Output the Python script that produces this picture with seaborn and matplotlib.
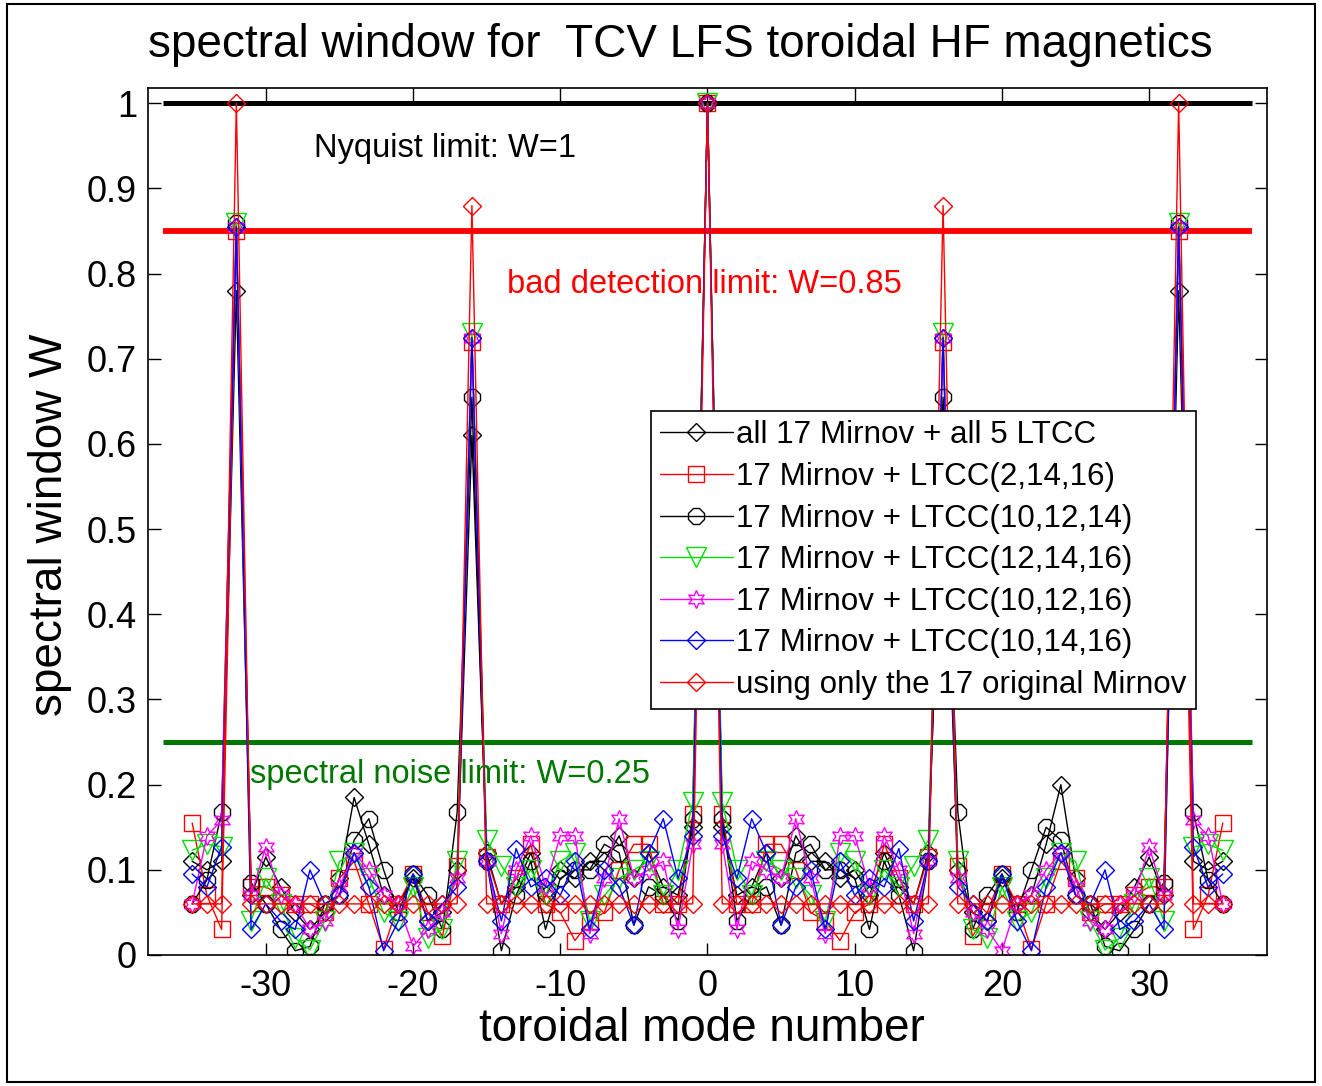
import numpy as np
import matplotlib
matplotlib.use("Agg")
import matplotlib.pyplot as plt
from matplotlib.patches import Rectangle
import seaborn as sns

# toroidal mode numbers
modes = np.arange(-35, 36)

# spectral window W for each probe set
all_ltcc = [0.11, 0.10, 0.11, 0.78, 0.07, 0.115, 0.08, 0.05, 0.03, 0.05, 0.09, 0.185, 0.13, 0.07, 0.06, 0.09,
            0.04, 0.05, 0.10, 0.61, 0.12, 0.06, 0.08, 0.12, 0.07, 0.10, 0.09, 0.11, 0.11, 0.14, 0.09, 0.12,
            0.08, 0.07, 0.15,
            1.0,
            0.15, 0.07, 0.08, 0.12, 0.09, 0.14, 0.11, 0.11, 0.09, 0.10, 0.07, 0.12, 0.08, 0.06, 0.12, 0.61,
            0.10, 0.05, 0.04, 0.09, 0.06, 0.07, 0.13, 0.20, 0.09, 0.05, 0.03, 0.05, 0.08, 0.115, 0.07, 0.78,
            0.11, 0.10, 0.11]
ltcc_2_14_16 = [0.155, 0.07, 0.03, 0.85, 0.08, 0.08, 0.07, 0.06, 0.06, 0.05, 0.09, 0.11, 0.06, 0.007, 0.06, 0.095,
                0.05, 0.022, 0.105, 0.72, 0.115, 0.06, 0.09, 0.13, 0.06, 0.05, 0.017, 0.04, 0.05, 0.10, 0.13,
                0.13, 0.06, 0.06, 0.165,
                1.0,
                0.165, 0.06, 0.06, 0.13, 0.13, 0.10, 0.05, 0.04, 0.017, 0.05, 0.06, 0.13, 0.09, 0.06, 0.115,
                0.72, 0.105, 0.022, 0.05, 0.095, 0.06, 0.007, 0.06, 0.11, 0.09, 0.05, 0.06, 0.06, 0.07, 0.08,
                0.08, 0.85, 0.03, 0.07, 0.155]
ltcc_10_12_14 = [0.06, 0.088, 0.168, 0.86, 0.085, 0.06, 0.03, 0.005, 0.01, 0.06, 0.07, 0.135, 0.16, 0.10, 0.05,
                 0.095, 0.07, 0.03, 0.168, 0.655, 0.11, 0.005, 0.07, 0.11, 0.03, 0.09, 0.10, 0.10, 0.13, 0.12,
                 0.035, 0.08, 0.07, 0.04, 0.16,
                 1.0,
                 0.16, 0.04, 0.07, 0.08, 0.035, 0.12, 0.13, 0.10, 0.10, 0.09, 0.03, 0.11, 0.07, 0.005, 0.11,
                 0.655, 0.168, 0.03, 0.07, 0.095, 0.05, 0.10, 0.15, 0.135, 0.07, 0.06, 0.01, 0.005, 0.03, 0.06,
                 0.085, 0.86, 0.168, 0.088, 0.06]
ltcc_12_14_16 = [0.123, 0.13, 0.127, 0.86, 0.04, 0.09, 0.06, 0.02, 0.006, 0.04, 0.11, 0.12, 0.09, 0.05, 0.04,
                 0.08, 0.02, 0.03, 0.11, 0.73, 0.135, 0.105, 0.08, 0.10, 0.07, 0.11, 0.12, 0.04, 0.07, 0.09,
                 0.10, 0.11, 0.07, 0.10, 0.18,
                 1.0,
                 0.18, 0.10, 0.07, 0.11, 0.10, 0.09, 0.07, 0.04, 0.12, 0.11, 0.07, 0.10, 0.08, 0.105, 0.135,
                 0.73, 0.11, 0.03, 0.02, 0.08, 0.04, 0.05, 0.09, 0.12, 0.11, 0.04, 0.006, 0.02, 0.06, 0.09,
                 0.04, 0.86, 0.127, 0.13, 0.123]
ltcc_10_12_16 = [0.06, 0.14, 0.158, 0.855, 0.07, 0.127, 0.07, 0.06, 0.03, 0.04, 0.08, 0.12, 0.10, 0.07, 0.06,
                 0.01, 0.03, 0.05, 0.09, 0.725, 0.11, 0.025, 0.10, 0.14, 0.08, 0.14, 0.14, 0.025, 0.09, 0.16,
                 0.09, 0.10, 0.11, 0.03, 0.13,
                 1.0,
                 0.13, 0.03, 0.11, 0.10, 0.09, 0.16, 0.09, 0.025, 0.14, 0.14, 0.08, 0.14, 0.10, 0.025, 0.11,
                 0.725, 0.09, 0.05, 0.03, 0.005, 0.06, 0.07, 0.10, 0.12, 0.08, 0.04, 0.03, 0.06, 0.07, 0.127,
                 0.07, 0.855, 0.158, 0.14, 0.06]
ltcc_10_14_16 = [0.095, 0.08, 0.127, 0.855, 0.03, 0.06, 0.04, 0.03, 0.10, 0.06, 0.07, 0.12, 0.08, 0.005, 0.04,
                 0.095, 0.04, 0.06, 0.08, 0.725, 0.11, 0.04, 0.125, 0.08, 0.09, 0.07, 0.11, 0.03, 0.10, 0.08,
                 0.035, 0.12, 0.16, 0.09, 0.14,
                 1.0,
                 0.14, 0.09, 0.16, 0.12, 0.035, 0.08, 0.10, 0.03, 0.11, 0.07, 0.09, 0.08, 0.125, 0.04, 0.11,
                 0.725, 0.08, 0.06, 0.04, 0.095, 0.04, 0.005, 0.08, 0.12, 0.07, 0.06, 0.10, 0.03, 0.04, 0.06,
                 0.03, 0.855, 0.127, 0.08, 0.095]
mirnov_only = [0.06, 0.06, 0.06, 1.0, 0.06, 0.06, 0.06, 0.06, 0.06, 0.06, 0.06, 0.06, 0.06, 0.06, 0.06, 0.06,
               0.06, 0.06, 0.06, 0.88, 0.06, 0.06, 0.06, 0.06, 0.06, 0.06, 0.06, 0.06, 0.06, 0.06, 0.06, 0.06,
               0.06, 0.06, 0.06,
               1.0,
               0.06, 0.06, 0.06, 0.06, 0.06, 0.06, 0.06, 0.06, 0.06, 0.06, 0.06, 0.06, 0.06, 0.06, 0.06, 0.88,
               0.06, 0.06, 0.06, 0.06, 0.06, 0.06, 0.06, 0.06, 0.06, 0.06, 0.06, 0.06, 0.06, 0.06, 0.06, 1.0,
               0.06, 0.06, 0.06]

series_labels = ["all 17 Mirnov + all 5 LTCC",
                 "17 Mirnov + LTCC(2,14,16)",
                 "17 Mirnov + LTCC(10,12,14)",
                 "17 Mirnov + LTCC(12,14,16)",
                 "17 Mirnov + LTCC(10,12,16)",
                 "17 Mirnov + LTCC(10,14,16)",
                 "using only the 17 original Mirnov"]

# detection limits
limit_values = [1.0, 0.85, 0.25]
limit_texts = ["Nyquist limit: W=1", "bad detection limit: W=0.85", "spectral noise limit: W=0.25"]

DARK_GREEN = "#007800"
styles = [
    dict(color="k", marker="D", ms=9.5),
    dict(color="#ff0000", marker="s", ms=12),
    dict(color="k", marker="8", ms=13),
    dict(color="#00e000", marker="v", ms=14),
    dict(color="#ff00ff", marker=(6, 1, 0), ms=13),
    dict(color="#0000ff", marker="D", ms=9.5),
    dict(color="#ff0000", marker="D", ms=9.5),
]

sns.set_style("ticks")
plt.rcParams["font.family"] = ["Liberation Sans", "DejaVu Sans"]
plt.rcParams["text.color"] = "black"
plt.rcParams["axes.labelcolor"] = "black"
plt.rcParams["xtick.color"] = "black"
plt.rcParams["ytick.color"] = "black"

fig = plt.figure(figsize=(13.22, 10.86), dpi=100)
ax = fig.add_axes([0.11195, 0.12063, 0.84644, 0.79834])

# limit lines
limit_span = [-37, 37]
for val, col, lw in zip(limit_values, ["k", "#ff0000", DARK_GREEN], [3.6, 4.2, 3.6]):
    ax.plot(limit_span, [val, val], color=col, lw=lw, zorder=1.5, solid_capstyle="butt")

all_series = [all_ltcc, ltcc_2_14_16, ltcc_10_12_14, ltcc_12_14_16, ltcc_10_12_16, ltcc_10_14_16, mirnov_only]
handles = []
for vals, lab, st in zip(all_series, series_labels, styles):
    sns.lineplot(x=modes, y=vals, ax=ax, color=st["color"], marker=st["marker"], markersize=st["ms"],
                 markerfacecolor="none", markeredgecolor=st["color"], markeredgewidth=1.0,
                 linewidth=1.0, label=lab, zorder=2)
    handles.append(ax.lines[-1])

ax.text(-26.7, 0.947, limit_texts[0], fontsize=23.5, color="k", ha="left", va="center")
ax.text(-13.6, 0.787, limit_texts[1], fontsize=23.5, color="#ff0000", ha="left", va="center")
ax.text(-31.1, 0.212, limit_texts[2], fontsize=23.5, color=DARK_GREEN, ha="left", va="center")

ax.set_xlim(-38, 38)
ax.set_ylim(0, 1.018)
xt = [-30, -20, -10, 0, 10, 20, 30]
ax.set_xticks(xt)
ax.set_xticklabels([str(v) for v in xt])
yt = [0, 0.1, 0.2, 0.3, 0.4, 0.5, 0.6, 0.7, 0.8, 0.9, 1]
ax.set_yticks(yt)
ax.set_yticklabels(["0", "0.1", "0.2", "0.3", "0.4", "0.5", "0.6", "0.7", "0.8", "0.9", "1"])
ax.tick_params(direction="in", top=True, right=True, length=9, width=1, labelsize=26, pad=8,
               colors="k")
ax.tick_params(axis="x", pad=10)
for sp in ax.spines.values():
    sp.set_linewidth(1.2)
    sp.set_color("k")

ax.set_xlabel("toroidal mode number", fontsize=33, va="center")
ax.xaxis.set_label_coords(0.495, -0.085)
ax.set_ylabel("spectral window W", fontsize=33, va="center")
ax.yaxis.set_label_coords(-0.0876, 0.496)

fig.text(680 / 1322, 1 - 45 / 1086, "spectral window for  TCV LFS toroidal HF magnetics",
         fontsize=33, ha="center", va="center")

leg = ax.legend(handles, series_labels, loc="upper left", bbox_to_anchor=(0.4495, 0.6275),
                borderaxespad=0, fontsize=22.6, frameon=True, fancybox=False, framealpha=1,
                edgecolor="k", handlelength=2.3, handletextpad=0.1, labelspacing=0.37,
                borderpad=0.3, numpoints=1)
leg.get_frame().set_linewidth(1.2)
leg.set_zorder(10)

# outer frame around the figure
fig.patches.append(Rectangle((0.005, 0.004), 0.99, 0.992, transform=fig.transFigure,
                             fill=False, edgecolor="k", linewidth=1.5))

fig.savefig("out.png", dpi=100, facecolor="white")
